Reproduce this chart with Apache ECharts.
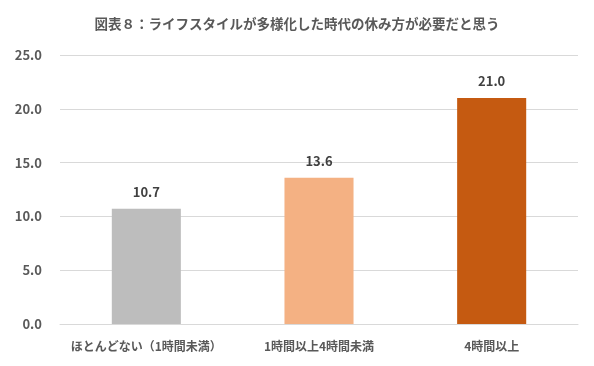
<!DOCTYPE html>
<html><head><meta charset="utf-8">
<script src="https://cdn.jsdelivr.net/npm/echarts@6/dist/echarts.min.js"></script>
<style>html,body{margin:0;padding:0;background:#fff}#c{width:594px;height:366px}</style>
</head><body><div id="c"></div>
<script>
const title = '図表８：ライフスタイルが多様化した時代の休み方が必要だと思う';
const categories = ['ほとんどない（1時間未満）', '1時間以上4時間未満', '4時間以上'];
const values = [10.7, 13.6, 21.0];
const colors = ['#BDBDBD', '#F4B183', '#C55A11'];
const yTicks = {min: 0, max: 25, interval: 5};
const font = '"Noto Sans CJK JP", sans-serif';
const chart = echarts.init(document.getElementById('c'));
chart.setOption({
  animation: false,
  title: {text: title, left: 'center', top: 12,
    textStyle: {fontFamily: font, fontSize: 13.5, fontWeight: 'bold', color: '#595959'}},
  grid: {left: 60, right: 16, top: 55, bottom: 42},
  xAxis: {type: 'category', data: categories,
    axisLine: {lineStyle: {color: '#D9D9D9'}}, axisTick: {show: false},
    axisLabel: {interval: 0, fontFamily: font, fontSize: 12, fontWeight: 'bold', color: '#595959', margin: 16}},
  yAxis: {type: 'value', min: yTicks.min, max: yTicks.max, interval: yTicks.interval,
    axisLine: {show: false}, axisTick: {show: false},
    splitLine: {lineStyle: {color: '#D9D9D9'}},
    axisLabel: {fontFamily: font, fontSize: 13, fontWeight: 'bold', color: '#595959', margin: 18,
      formatter: v => v.toFixed(1)}},
  series: [{type: 'bar', barWidth: '40%',
    data: values.map((v, i) => ({value: v, itemStyle: {color: colors[i]}})),
    label: {show: true, position: 'top', distance: 10, fontFamily: font, fontSize: 13, fontWeight: 'bold', color: '#404040',
      formatter: p => p.value.toFixed(1)}}]
});
</script></body></html>
